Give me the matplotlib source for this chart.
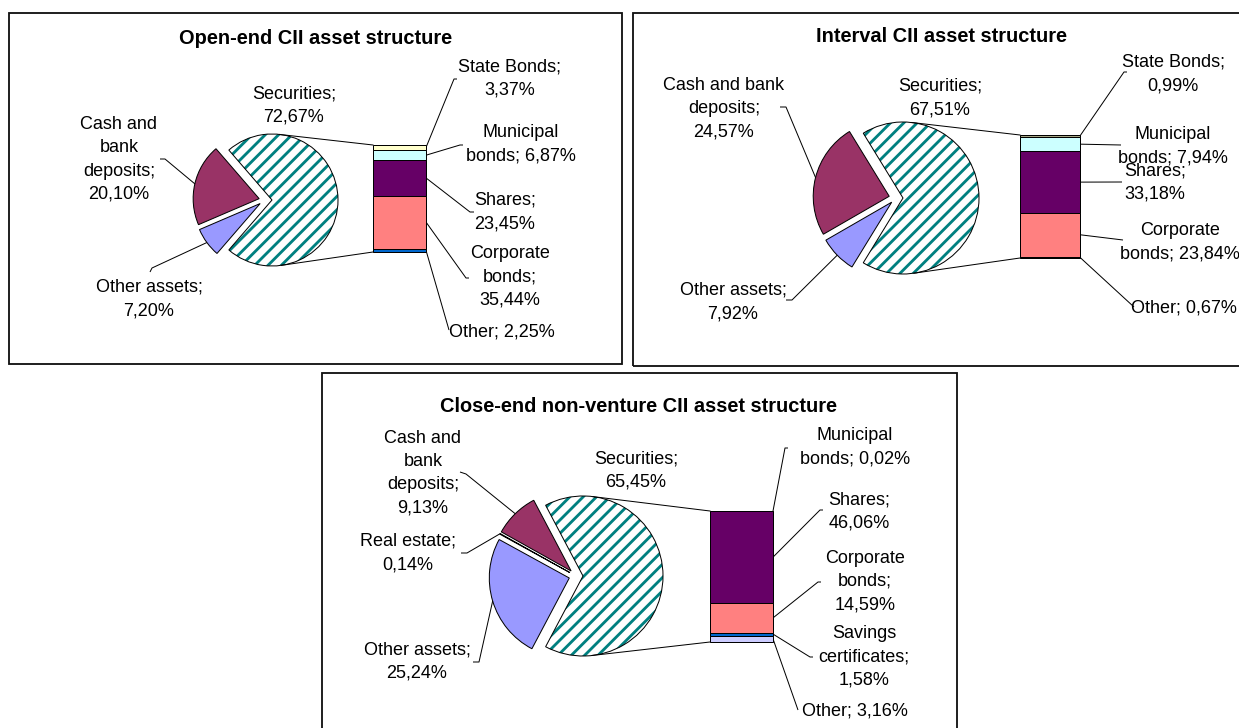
import math
import numpy as np
import matplotlib
matplotlib.use("Agg")
from matplotlib import pyplot as plt
from matplotlib.patches import Rectangle, Wedge

W, H, DPI = 1239, 728, 120

plt.rcParams['font.family'] = ['Liberation Sans', 'DejaVu Sans']
plt.rcParams['hatch.linewidth'] = 1.7

# ---- data ----
open_pie_names = ['Securities', 'Cash and\nbank\ndeposits', 'Other assets']
open_pie_values = [72.67, 20.10, 7.20]
open_bar_names = ['State Bonds', 'Municipal\nbonds', 'Shares', 'Corporate\nbonds', 'Other']
open_bar_values = [3.37, 6.87, 23.45, 35.44, 2.25]

interval_pie_names = ['Securities', 'Cash and bank\ndeposits', 'Other assets']
interval_pie_values = [67.51, 24.57, 7.92]
interval_bar_names = ['State Bonds', 'Municipal\nbonds', 'Shares', 'Corporate\nbonds', 'Other']
interval_bar_values = [0.99, 7.94, 33.18, 23.84, 0.67]

close_pie_names = ['Securities', 'Cash and\nbank\ndeposits', 'Real estate', 'Other assets']
close_pie_values = [65.45, 9.13, 0.14, 25.24]
close_bar_names = ['Municipal\nbonds', 'Shares', 'Corporate\nbonds', 'Savings\ncertificates', 'Other']
close_bar_values = [0.02, 46.06, 14.59, 1.58, 3.16]

TEAL = '#008080'
open_pie_colors = ['white', '#993366', '#9999FF']
open_bar_colors = ['#FFFFCC', '#CCFFFF', '#660066', '#FF8080', '#0066CC']
interval_pie_colors = ['white', '#993366', '#9999FF']
interval_bar_colors = ['#A5A584', '#CCFFFF', '#660066', '#FF8080', '#0066CC']
close_pie_colors = ['white', '#993366', '#FFFFCC', '#9999FF']
close_bar_colors = ['#FFFFCC', '#660066', '#FF8080', '#0066CC', '#CCCCFF']

FS = 10.8
LS = 1.47

# layout in image pixels (y down): text centre, separator, leader points
panels = [
    dict(title='Open-end CII asset structure', title_xy=(316, 38), frame=(9, 13, 622, 364),
         pie=(open_pie_names, open_pie_values, open_pie_colors),
         center=(265, 200), r=66, explode=[7, 6, 6],
         pie_text=[((294, 105.5), ';\n', None),
                   ((119, 159.5), ';\n', [(160, 159), (165, 159)]),
                   ((149, 299), ';\n', [(150, 272), (152, 268)])],
         bar=(open_bar_names, open_bar_values, open_bar_colors), bar_box=(373, 145, 426, 252),
         bar_text=[((510, 78.5), ';\n', [(457, 79), (454, 79)]),
                   ((521, 144), '; ', [(463, 145), (460, 145)]),
                   ((505, 212), ';\n', [(474, 212), (470, 212)]),
                   ((510, 277), ';\n', [(469, 278), (466, 278)]),
                   ((502, 332), '; ', [(449, 330)])]),
    dict(title='Interval CII asset structure', title_xy=(941, 37), frame=(633, 13, 1250, 366),
         pie=(interval_pie_names, interval_pie_values, interval_pie_colors),
         center=(896, 198), r=76, explode=[7, 7, 6],
         pie_text=[((940, 98), ';\n', None),
                   ((724, 108.5), ';\n', [(780, 107), (786, 107)]),
                   ((733, 302), ';\n', [(786, 300), (792, 300)])],
         bar=(interval_bar_names, interval_bar_values, interval_bar_colors), bar_box=(1020, 135, 1080, 258),
         bar_text=[((1173, 74), ';\n', [(1127, 72), (1124, 72)]),
                   ((1173, 146), '; ', [(1121, 145)]),
                   ((1155, 182.5), ';\n', [(1122, 182)]),
                   ((1180, 242.5), '; ', [(1123, 240)]),
                   ((1184, 308), '; ', [(1134, 307)])]),
    dict(title='Close-end non-venture CII asset structure', title_xy=(639, 406), frame=(322, 373, 957, 740),
         pie=(close_pie_names, close_pie_values, close_pie_colors),
         center=(576, 576), r=80, explode=[7, 7, 7, 7],
         pie_text=[((636, 470.5), ';\n', None),
                   ((423, 473), ';\n', [(460, 472), (466, 474)]),
                   ((408, 553), ';\n', [(461, 553), (467, 553)]),
                   ((417, 661.5), ';\n', [(473, 662), (479, 662)])],
         bar=(close_bar_names, close_bar_values, close_bar_colors), bar_box=(710, 511, 773, 642),
         bar_text=[((855, 447.5), '; ', [(788, 448), (785, 448)]),
                   ((859, 511.5), ';\n', [(823, 510), (820, 510)]),
                   ((865, 581.5), ';\n', [(821, 582), (818, 582)]),
                   ((864, 656.5), ';\n', [(813, 657), (810, 657)]),
                   ((855, 711), '; ', [(798, 710)])]),
]


def fmt(v):
    return '{:.2f}'.format(v).replace('.', ',') + '%'


def leader(ax, pts, end):
    xs = [q[0] for q in pts] + [end[0]]
    ys = [H - q[1] for q in pts] + [end[1]]
    ax.plot(xs, ys, color='black', lw=0.6, solid_capstyle='butt')


def draw_panel(fig, ax, p):
    x0, y0, x1, y1 = p['frame']
    ax.add_patch(Rectangle((x0, H - y1), x1 - x0, y1 - y0, fill=False, ec='#111111', lw=1.1))
    ax.text(p['title_xy'][0], H - p['title_xy'][1], p['title'], ha='center', va='center',
            fontsize=12, fontweight='bold')

    # pie
    names, vals, colors = p['pie']
    cx, cy = p['center']
    r = p['r']
    frac0 = vals[0] / sum(vals)
    wedges, _ = ax.pie(vals, colors=colors, explode=p['explode'], center=(cx, H - cy),
                       radius=r, startangle=-180 * frac0, counterclock=True, frame=True,
                       wedgeprops=dict(edgecolor='black', linewidth=0.6))
    sec = wedges[0]
    sec.set_edgecolor(TEAL)
    sec.set_linewidth(0)
    sec.set_hatch('///')
    ax.add_patch(Wedge(sec.center, sec.r, sec.theta1, sec.theta2, fill=False, ec='black', lw=0.6))

    for name, v, (pos, sep, pts), w in zip(names, vals, p['pie_text'], wedges):
        ax.text(pos[0], H - pos[1], name + sep + fmt(v), ha='center', va='center',
                fontsize=FS, linespacing=LS, multialignment='center')
        if pts:
            tm = math.radians((w.theta1 + w.theta2) / 2)
            end = (w.center[0] + w.r * math.cos(tm), w.center[1] + w.r * math.sin(tm))
            leader(ax, pts, end)

    # bar of pie
    bnames, bvals, bcolors = p['bar']
    bx0, by0, bx1, by1 = p['bar_box']
    bax = fig.add_axes([bx0 / W, (H - by1) / H, (bx1 - bx0) / W, (by1 - by0) / H])
    total = sum(bvals)
    bottoms = np.concatenate([[0], np.cumsum(bvals)[:-1]])
    bax.bar(0, bvals, bottom=bottoms, width=1, color=bcolors, edgecolor='black',
            linewidth=0.6, clip_on=False)
    bax.set_xlim(-0.5, 0.5)
    bax.set_ylim(total, 0)
    bax.axis('off')
    to_px = bax.transData.transform

    # series lines: tangent from the securities circle to the bar corners
    C = np.array(sec.center)
    for P, sign in ((to_px((-0.5, 0)), 1), (to_px((-0.5, total)), -1)):
        d = P - C
        dist = np.hypot(d[0], d[1])
        ang = math.atan2(d[1], d[0]) + sign * math.acos(r / dist)
        T = C + r * np.array([math.cos(ang), math.sin(ang)])
        ax.plot([T[0], P[0]], [T[1], P[1]], color='black', lw=0.6)

    for name, v, b, (pos, sep, pts) in zip(bnames, bvals, bottoms, p['bar_text']):
        ax.text(pos[0], H - pos[1], name + sep + fmt(v), ha='center', va='center',
                fontsize=FS, linespacing=LS, multialignment='center')
        leader(ax, pts, to_px((0.5, b + v / 2)))


fig = plt.figure(figsize=(W / DPI, H / DPI), dpi=DPI, facecolor='white')
ax = fig.add_axes([0, 0, 1, 1])
for p in panels:
    draw_panel(fig, ax, p)
ax.set_xlim(0, W)
ax.set_ylim(0, H)
ax.set_aspect('auto')
ax.axis('off')

fig.savefig('out.png', dpi=DPI, facecolor='white')
